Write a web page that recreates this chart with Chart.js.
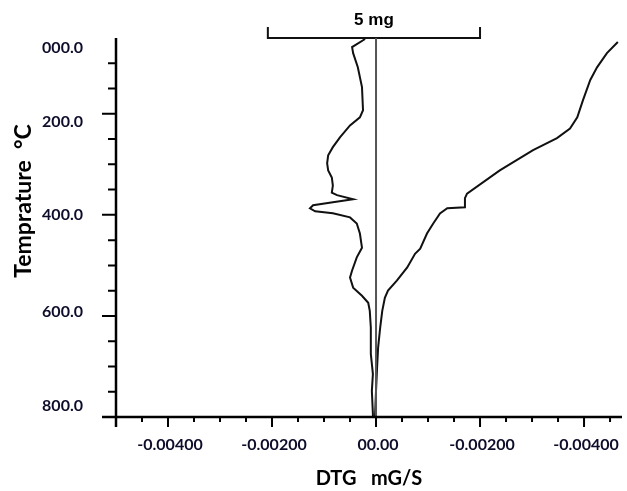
<!DOCTYPE html>
<html>
<head>
<meta charset="utf-8">
<script src="https://cdn.jsdelivr.net/npm/chart.js@4.4.1/dist/chart.umd.min.js"></script>
<style>
  html, body { margin: 0; padding: 0; background: #fff; overflow: hidden; }
  #wrap { width: 627px; height: 491px; }
</style>
</head>
<body>
<div id="wrap"><canvas id="dtgChart"></canvas></div>
<script>
// === data (x = DTG mg/s, t = temperature on the drawn axis) ===
const dtgX = [-0.00021,-0.00046,-0.00044,-0.00035,-0.00027,-0.00025,-0.00031,-0.00050,-0.00069,-0.00083,
  -0.00092,-0.00094,-0.00092,-0.00085,-0.00083,-0.00085,-0.00075,-0.00044,-0.00083,-0.00121,
  -0.00127,-0.00117,-0.00083,-0.00050,-0.00037,-0.00031,-0.00027,-0.00037,-0.00046,-0.00050,
  -0.00044,-0.00027,-0.00015,-0.00012,-0.00010,-0.00010,-0.00008,-0.00006,-0.00008,-0.00006,-0.00006];
const dtgT = [52,68,80,108,147,193,207,223,246,266,
  282,298,312,326,342,356,361,369,375,381,
  387,393,397,405,417,437,465,484,510,524,
  544,560,574,590,623,675,695,715,748,794,800];

const tgX = [0.00465,0.00444,0.00425,0.00412,0.00398,0.00387,0.00373,0.00348,0.00302,0.00238,
  0.00175,0.00171,0.00171,0.00137,0.00123,0.00110,0.00098,0.00085,0.00075,0.00060,
  0.00040,0.00023,0.00017,0.00012,0.00008,0.00004,0.00002,0.00000,-0.00002];
const tgT = [58,80,108,133,173,207,229,248,272,312,
  358,367,385,387,397,417,437,467,477,504,
  530,550,564,590,623,663,703,748,800];

const zeroX = [0, 0];
const zeroT = [50, 800];

// 5 mg scale bar
const barX = [-0.00208, -0.00208, 0.00200, 0.00200];
const barT = [28, 50, 50, 28];
const barLabel = '5 mg';

const xTickValues = [-0.004, -0.002, 0, 0.002, 0.004];
const xTickLabels = ['-0.00400', '-0.00200', '00.00', '-0.00200', '-0.00400'];
const xMajor = [-0.005, -0.004, -0.002, 0, 0.002, 0.004];
const xMinor = [-0.0045,-0.0035,-0.003,-0.0025,-0.0015,-0.001,-0.0005,0.0005,0.001,0.0015,0.0025,0.003,0.0035,0.0045];

const yTickValues = [70, 216, 400, 592, 778];
const yTickLabels = ['000.0', '200.0', '400.0', '600.0', '800.0'];
const yMajor = [200, 400, 600];
const yMinor = [100,150,250,300,350,450,500,550,650,700,750];

const xTitle = 'DTG   mG/S';
const yTitle = 'Temprature  \u00B0C';

const pts = (xs, ts) => xs.map((x, i) => ({x: x, y: ts[i]}));

// axes, tick marks, labels and titles drawn over the chart area
const axisMarks = {
  id: 'axisMarks',
  afterDraw(chart) {
    const c = chart.ctx, xs = chart.scales.x, ys = chart.scales.y;
    const a = chart.chartArea;
    c.save();
    c.strokeStyle = '#000';
    c.lineWidth = 2.5;
    c.beginPath();
    c.moveTo(a.left, a.top); c.lineTo(a.left, a.bottom + 10);
    c.moveTo(a.left - 14, a.bottom); c.lineTo(a.right, a.bottom);
    c.stroke();
    c.lineWidth = 2;
    c.beginPath();
    yMajor.forEach(v => { const p = ys.getPixelForValue(v); c.moveTo(a.left - 14, p); c.lineTo(a.left, p); });
    yMinor.forEach(v => { const p = ys.getPixelForValue(v); c.moveTo(a.left - 8, p); c.lineTo(a.left, p); });
    xMajor.forEach(v => { const p = xs.getPixelForValue(v); c.moveTo(p, a.bottom); c.lineTo(p, a.bottom + 10); });
    xMinor.forEach(v => { const p = xs.getPixelForValue(v); c.moveTo(p, a.bottom); c.lineTo(p, a.bottom + 5); });
    c.stroke();

    // tick labels
    c.fillStyle = '#0d0d2b';
    c.font = 'bold 16px Lato, sans-serif';
    c.textBaseline = 'middle';
    c.textAlign = 'right';
    yTickValues.forEach((v, i) => c.fillText(yTickLabels[i], a.left - 33, ys.getPixelForValue(v)));
    c.textAlign = 'center';
    xTickValues.forEach((v, i) => c.fillText(xTickLabels[i], xs.getPixelForValue(v) + 2, a.bottom + 28));

    // scale bar label
    c.fillStyle = '#000';
    c.font = 'bold 17px "Liberation Sans", Arial, sans-serif';
    const bx = xs.getPixelForValue((barX[0] + barX[2]) / 2);
    c.fillText(barLabel, bx, ys.getPixelForValue(barT[0]) - 7);

    // axis titles
    c.font = 'bold 20px Lato, sans-serif';
    c.fillText(xTitle, (a.left + a.right) / 2, 479);
    c.translate(24, 201);
    c.rotate(-Math.PI / 2);
    c.font = 'bold 23px Lato, sans-serif';
    c.fillText(yTitle, 0, 0);
    c.restore();
  }
};

const noPad = s => { s.paddingLeft = 0; s.paddingRight = 0; s.paddingTop = 0; s.paddingBottom = 0; };

new Chart(document.getElementById('dtgChart'), {
  type: 'scatter',
  data: {
    datasets: [
      { label: 'zero', data: pts(zeroX, zeroT), borderColor: '#555', borderWidth: 2 },
      { label: 'DTG', data: pts(dtgX, dtgT), borderColor: '#111', borderWidth: 2 },
      { label: 'TG', data: pts(tgX, tgT), borderColor: '#111', borderWidth: 2 },
      { label: 'scale', data: pts(barX, barT), borderColor: '#111', borderWidth: 2, clip: false }
    ].map(d => Object.assign({showLine: true, pointRadius: 0, tension: 0, fill: false}, d))
  },
  options: {
    animation: false,
    responsive: true,
    maintainAspectRatio: false,
    layout: { padding: { top: 38, right: 5, left: 0, bottom: 0 } },
    plugins: { legend: { display: false }, tooltip: { enabled: false } },
    scales: {
      x: {
        type: 'linear', min: -0.005, max: 0.00473,
        grid: { display: false, drawTicks: false }, border: { display: false },
        ticks: { display: false },
        afterFit: s => { s.height = 74; noPad(s); }
      },
      y: {
        type: 'linear', min: 50, max: 800, reverse: true,
        grid: { display: false, drawTicks: false }, border: { display: false },
        ticks: { display: false },
        afterFit: s => { s.width = 116; noPad(s); }
      }
    }
  },
  plugins: [axisMarks]
});
</script>
</body>
</html>
